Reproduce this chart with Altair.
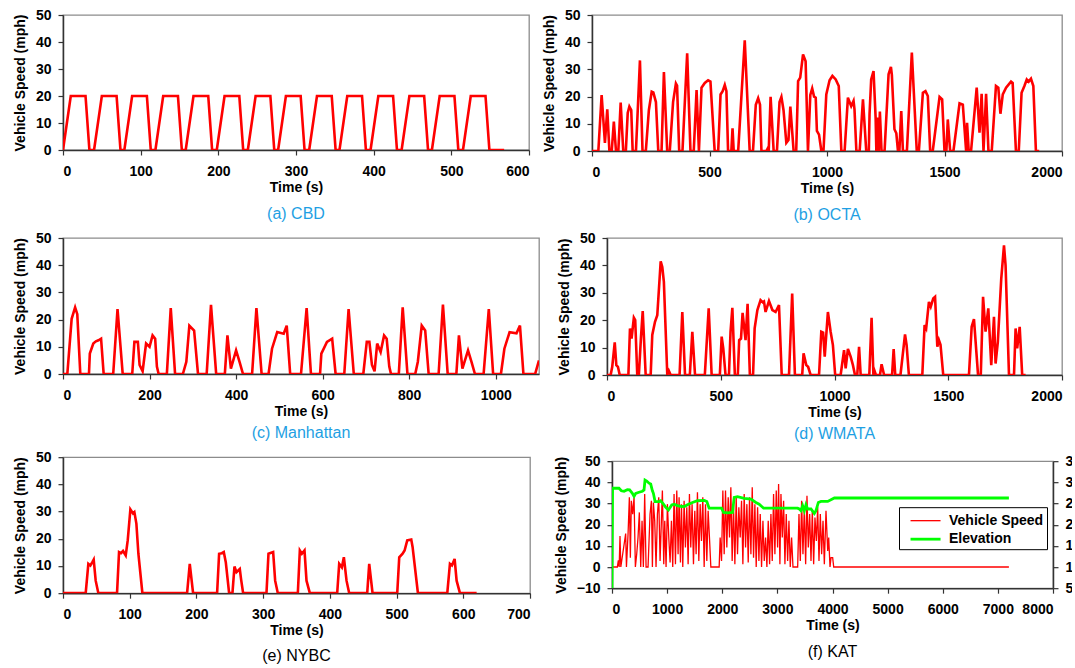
import altair as alt
import pandas as pd

FONT = "Liberation Sans"
RED = "#FF0000"
GREEN = "#00FF00"
CAPTION_BLUE = "#1E9FE3"

# ---- tick values -------------------------------------------------------
speed_ticks = [0, 10, 20, 30, 40, 50]
kat_speed_ticks = [-10, 0, 10, 20, 30, 40, 50]
elevation_ticks = [50, 100, 150, 200, 250, 300, 350]
cbd_x_ticks = [0, 100, 200, 300, 400, 500, 600]
octa_x_ticks = [0, 500, 1000, 1500, 2000]
manhattan_x_ticks = [0, 200, 400, 600, 800, 1000]
wmata_x_ticks = [0, 500, 1000, 1500, 2000]
nybc_x_ticks = [0, 100, 200, 300, 400, 500, 600, 700]
kat_x_ticks = [0, 1000, 2000, 3000, 4000, 5000, 6000, 7000, 8000]

# ---- (a) CBD cycle -----------------------------------------------------
cbd_time = [0, 10, 29, 34, 40, 50, 69, 74, 79, 89, 108, 113, 119, 129, 148, 153,
            158, 168, 187, 192, 198, 208, 227, 232, 238, 248, 267, 272,
            277, 287, 306, 311, 317, 327, 346, 351, 356, 366, 385, 390,
            396, 406, 425, 430, 436, 446, 465, 470, 475, 485, 504, 509,
            515, 525, 544, 549, 568]
cbd_speed = [0, 20, 20, 0, 0, 20, 20, 0, 0, 20, 20, 0, 0, 20, 20, 0,
             0, 20, 20, 0, 0, 20, 20, 0, 0, 20, 20, 0,
             0, 20, 20, 0, 0, 20, 20, 0, 0, 20, 20, 0,
             0, 20, 20, 0, 0, 20, 20, 0, 0, 20, 20, 0,
             0, 20, 20, 0, 0]

# ---- (b) OCTA cycle ----------------------------------------------------
octa_time = [0, 27, 41, 55, 65, 74, 84, 93, 102, 112, 122, 133, 144, 152, 159, 167, 173,
             187, 204, 215, 229, 242, 254, 261, 272, 282, 296, 306, 320, 331, 345, 357,
             362, 371, 385, 405, 419, 433, 445, 455, 466, 480, 494, 504, 522, 537, 547,
             556, 565, 572, 579, 593, 598, 603, 622, 650, 671, 685, 697, 707, 715, 721,
             742, 748, 752, 760, 773, 787, 798, 806, 815, 827, 836, 844, 858, 869, 877,
             886, 898, 909, 919, 929, 937, 945, 952, 957, 966, 976, 985, 997, 1011, 1023,
             1037, 1050, 1061, 1075, 1089, 1103, 1113, 1117, 1125, 1139, 1153, 1167,
             1178, 1181, 1188, 1198, 1207, 1210, 1215, 1220, 1225, 1232, 1245, 1262,
             1272, 1276, 1287, 1295, 1302, 1308, 1316, 1323, 1340, 1361, 1382, 1391,
             1408, 1419, 1429, 1439, 1450, 1479, 1490, 1500, 1508, 1514, 1524, 1538,
             1564, 1578, 1592, 1596, 1603, 1613, 1637, 1649, 1658, 1666, 1677, 1687,
             1701, 1719, 1729, 1738, 1748, 1762, 1783, 1790, 1804, 1816, 1828, 1840,
             1850, 1858, 1868, 1878, 1889, 1903]
octa_speed = [0, 0, 20.6, 3, 15.3, 0, 0, 10.8, 0, 0, 17.8, 0, 0, 14, 16.3, 15, 0,
              0, 33.3, 0, 0, 15, 21.8, 21.5, 18, 0, 0, 29, 0, 0, 18, 24.8,
              24, 0, 0, 35.9, 0, 0, 22.4, 0, 23.3, 25, 26, 25.5, 0, 0, 20.8,
              22, 24.3, 22, 0, 0, 8.3, 0, 0, 40.7, 0, 0, 17, 19.4, 17, 0,
              0, 1, 0, 19.9, 0, 0, 18, 19.9, 15, 3, 4, 16.3, 0, 0, 25.7,
              27, 35.5, 33, 0, 20.6, 23, 20, 19.6, 7.4, 6, 0, 0, 20.8, 26, 27.6,
              26.3, 23.9, 0, 0, 19.6, 16.5, 18.4, 15.3, 0, 0, 19, 0,
              0, 13.5, 26.3, 29.4, 12, 0, 12.3, 0, 14.5, 0, 0, 28.2,
              30.9, 28, 8, 6.5, 0, 0, 14.7, 0, 0, 36.2, 0, 0,
              21.4, 22, 20.2, 0, 0, 19.9, 19, 0, 0, 11.6, 0, 0,
              17.5, 17, 0, 10.4, 0, 0, 23.3, 6.7, 21, 0, 21, 0,
              0, 23.9, 23.3, 13.7, 20.8, 23.3, 25.5, 25, 0, 0, 21.4, 23.9,
              26.3, 25.5, 26.6, 23.9, 0, 0]

# ---- (c) Manhattan cycle -----------------------------------------------
manhattan_time = [0, 10, 20, 28, 33, 40, 60, 62, 70, 76, 82, 88, 94, 116, 126, 138,
                  160, 165, 173, 177, 184, 192, 200, 207, 213, 217, 221, 240, 249, 259,
                  277, 285, 292, 303, 312, 332, 342, 354, 374, 380, 388, 400, 408, 416,
                  437, 447, 459, 475, 483, 495, 510, 517, 525, 550, 563, 573, 594, 597,
                  610, 622, 630, 650, 660, 672, 694, 702, 708, 714, 720, 726, 734, 742,
                  748, 754, 758, 776, 785, 796, 814, 820, 829, 837, 845, 868, 878, 889,
                  909, 915, 923, 936, 944, 952, 972, 984, 994, 1012, 1020, 1032, 1048,
                  1056, 1064, 1091, 1100]
manhattan_speed = [0, 0, 20.3, 24.5, 22, 0, 0, 7.5, 11.2, 12, 12.4, 13, 0, 0, 23.9, 0,
                   0, 11.8, 11.8, 3.3, 1, 11.2, 10, 14.2, 13, 2.7, 0, 0, 24.2, 0,
                   0, 4.5, 17.8, 16, 0, 0, 25.4, 0, 0, 14.2, 2, 8.7, 4.5, 0,
                   0, 24.2, 0, 0, 9.3, 15.4, 14.8, 17.8, 0, 0, 24.2, 0, 0, 7.5,
                   11.8, 13, 0, 0, 23.9, 0, 0, 11.8, 11.8, 3.3, 1, 11.2, 8.1, 14.2,
                   13, 2.7, 0, 0, 24.5, 0, 0, 4.5, 17.8, 16, 0, 0, 25.5, 0,
                   0, 14.2, 2, 8.7, 4.5, 0, 0, 23.9, 0, 0, 9.3, 15.4, 15,
                   17.8, 0, 0, 5]

# ---- (d) WMATA cycle ---------------------------------------------------
wmata_time = [0, 16, 23, 34, 41, 48, 56, 94, 101, 108, 118, 124, 133, 140, 149, 157,
              170, 192, 199, 211, 221, 236, 243, 250, 265, 272, 280, 319, 331, 343,
              364, 375, 387, 430, 447, 460, 496, 504, 511, 521, 536, 543, 551, 562,
              575, 581, 589, 596, 605, 609, 618, 628, 642, 649, 661, 675, 685, 690,
              697, 712, 727, 741, 756, 768, 800, 814, 826, 858, 864, 876, 884, 895,
              932, 942, 950, 957, 971, 983, 993, 1003, 1027, 1042, 1049, 1059, 1071,
              1081, 1090, 1100, 1108, 1115, 1153, 1163, 1171, 1176, 1182, 1200, 1207,
              1218, 1253, 1260, 1267, 1290, 1310, 1317, 1327, 1386, 1396, 1403, 1415,
              1423, 1434, 1442, 1452, 1459, 1466, 1478, 1591, 1603, 1613, 1631, 1643,
              1653, 1664, 1676, 1689, 1701, 1708, 1718, 1733, 1745, 1752, 1767, 1789,
              1796, 1803, 1814, 1825, 1840]
wmata_speed = [0, 0, 3, 11.9, 3.6, 3, 0, 0, 17, 13.3, 20.9, 20, 0, 0, 13.3, 23.3,
               0, 0, 14.6, 19.4, 21.8, 41.5, 39.4, 34, 0, 1.5, 0, 0, 23, 0,
               0, 15.8, 0, 0, 24.3, 0, 0, 14, 9.7, 0, 0, 15.8, 24.5, 0,
               0, 12.7, 13.3, 22.7, 15.8, 12.7, 26, 0, 0, 17, 23.7, 27.3, 26.5, 26.8,
               23, 27, 23.7, 23, 25.5, 0, 0, 29.7, 0, 0, 7.9, 3.6, 3, 0,
               0, 15.8, 15.5, 6.7, 23, 15.8, 10.9, 0, 0, 9.1, 2.4, 9.5, 6.7,
               3.6, 0, 0, 10.3, 0, 0, 20.9, 0, 1.5, 0, 0, 3.9,
               0, 0, 9.5, 0, 0, 14.8, 10.9, 0, 0, 18.2, 17, 26.7,
               24.9, 27.9, 28.5, 10.3, 12.7, 11, 0, 0, 17.6, 20.4, 0, 0,
               28.5, 15.8, 24.3, 3.6, 21.2, 4.2, 12.1, 35.2, 47.3, 40, 0, 0,
               17, 9.7, 17.6, 0, 0]

# ---- (e) NYBC cycle ----------------------------------------------------
nybc_time = [0, 34, 38, 41, 44, 46, 49, 53, 81, 84, 87, 90, 94, 97, 101, 105, 107,
             110, 113, 119, 186, 190, 195, 231, 234, 238, 241, 244, 249, 254, 257,
             260, 265, 267, 270, 305, 308, 315, 318, 322, 352, 355, 358, 362, 365,
             370, 411, 414, 418, 421, 425, 429, 456, 459, 464, 501, 504, 509, 512,
             516, 522, 524, 532, 576, 580, 583, 587, 590, 595, 620]
nybc_speed = [0, 0, 10.8, 10.2, 11.4, 12.3, 4.6, 0, 0, 15.1, 14.7, 15.5, 13.9, 19.4,
              30.8, 29.3, 29.8, 25.6, 14.5, 0, 0, 10.8, 0, 0, 14.5, 14.7, 15.1, 11.4,
              0, 0, 9.8, 7.7, 8.9, 5, 0, 0, 14.5, 15.1, 4.6, 0, 0, 15.7, 14.5, 15.7,
              4.6, 0, 0, 10.8, 9.5, 13.2, 4.6, 0, 0, 10.8, 0, 0, 13.2, 14.5, 15.7,
              19.4, 19.7, 17, 0, 0, 10.8, 10.2, 12.6, 4.6, 0, 0]

# ---- (f) KAT route: speed and elevation --------------------------------
kat_time = [0, 97, 115, 130, 145, 160, 248, 262, 291, 315, 333, 351, 375, 400, 424,
            448, 472, 496, 521, 545, 569, 593, 618, 654, 690, 715, 733, 751, 775, 799,
            824, 848, 872, 896, 914, 939, 957, 981, 1005, 1030, 1054, 1078, 1102, 1126,
            1151, 1175, 1199, 1217, 1242, 1260, 1284, 1308, 1332, 1357, 1381, 1405,
            1429, 1453, 1478, 1502, 1526, 1550, 1575, 1599, 1623, 1647, 1672, 1696,
            1720, 1744, 1768, 1793, 1944, 1962, 1987, 2011, 2035, 2059, 2083, 2108,
            2132, 2156, 2180, 2204, 2229, 2253, 2277, 2301, 2326, 2350, 2374, 2398,
            2423, 2447, 2471, 2495, 2520, 2544, 2568, 2592, 2616, 2641, 2665, 2689,
            2713, 2738, 2762, 2786, 2810, 2834, 2859, 2883, 2907, 2931, 2955, 2980,
            3004, 3022, 3046, 3065, 3089, 3113, 3137, 3161, 3186, 3210, 3234, 3258,
            3283, 3368, 3392, 3416, 3440, 3464, 3489, 3513, 3537, 3561, 3586, 3610,
            3634, 3658, 3682, 3707, 3731, 3755, 3779, 3803, 3828, 3852, 3882, 3913,
            3931, 3955, 3973, 4003, 4022, 7200]
kat_speed = [0, 0, 3.2, 0, 14.7, 0, 15.8, 0, 15.5, 32.9, 4.4, 31.3, 25, 32.9, 0,
             6, 13.9, 25.8, 0, 21.8, 0, 34.5, 0, 0, 25, 31.3, 0, 30.5, 21.8, 0,
             25, 32.9, 2.8, 21.8, 36.1, 1.3, 21.8, 0, 29.7, 13.9, 2.1, 21.8, 0, 34.5,
             1.3, 36.1, 6, 32.9, 2.1, 29.7, 0, 31.3, 9.2, 28.2, 1.3, 34.5,
             9.2, 29.7, 1.3, 26.6, 6, 35.3, 2.8, 29.7, 12.3, 32.9, 0, 29.7,
             2.8, 26.6, 13.9, 0, 0, 13.9, 2.8, 36.1, 6, 36.1, 9.2, 32.9,
             13.9, 37.7, 2.8, 29.7, 1.3, 32.9, 6, 28.2, 13.9, 31.3, 1.3, 34.5,
             9.2, 29.7, 2.1, 32.9, 6, 37.7, 4.4, 29.7, 0, 28.2, 2.8, 25,
             0, 21.8, 2.8, 13.9, 0, 21.8, 1.3, 25, 2.8, 34.5, 6, 36.1,
             9.2, 39.2, 1.3, 34.5, 13.9, 31.3, 1.3, 25, 2.8, 21.8, 0, 13.9,
             0, 0, 25, 2.8, 31.3, 6, 28.2, 1.3, 33.7, 9.2, 25, 2.8,
             26.6, 1.3, 23.4, 12.3, 28.2, 2.8, 25, 6, 21.8, 1.3, 26.6, 7.6,
             13.9, 0, 4.4, 4.4, 0, 0]
elev_time = [0, 10, 127, 169, 218, 278, 320, 369, 400, 430, 490, 551, 581, 599, 630,
             672, 702, 733, 751, 781, 854, 884, 933, 975, 1023, 1084, 1126, 1187, 1260,
             1320, 1369, 1460, 1550, 1672, 1720, 1762, 1987, 2023, 2096, 2186, 2217,
             2277, 2398, 2520, 2610, 2670, 2750, 3367, 3398, 3428, 3458, 3489, 3519,
             3549, 3610, 3670, 3700, 3743, 3792, 3913, 4034, 7200]
elevation = [50, 286, 286, 280, 279, 282.5, 282, 274, 267, 274, 276.5, 279, 282, 305.5,
             303, 298, 296, 280, 274, 254.5, 254.5, 256.5, 248.5, 241, 234.5, 246.5,
             248.5, 245, 243, 243.5, 247, 252.5, 256.5, 257.5, 254.5, 239, 239, 229,
             228, 229, 264.5, 266, 262, 260.5, 252.5, 248.5, 239, 239, 237, 233, 245,
             233, 247, 237, 237, 226.5, 233, 252.5, 255, 255, 263, 263]


def caption_title(text, color, offset):
    return alt.TitleParams(text=text, orient="bottom", color=color, fontSize=16,
                           font=FONT, fontWeight="normal", offset=offset)


def speed_panel(time, speed, x_max, x_ticks, width, height, caption, color, offset):
    frame = pd.DataFrame({"time": time, "speed": speed})
    return alt.Chart(frame).mark_line(color=RED, strokeWidth=2.6, clip=True).encode(
        x=alt.X("time:Q", scale=alt.Scale(domain=[0, x_max], nice=False),
                axis=alt.Axis(title="Time (s)", values=x_ticks, format="d")),
        y=alt.Y("speed:Q", scale=alt.Scale(domain=[0, 50], nice=False),
                axis=alt.Axis(title="Vehicle Speed (mph)", values=speed_ticks, format="d")),
    ).properties(width=width, height=height, title=caption_title(caption, color, offset))


panel_a = speed_panel(cbd_time, cbd_speed, 600, cbd_x_ticks, 466, 135, "(a) CBD", CAPTION_BLUE, 12)
panel_b = speed_panel(octa_time, octa_speed, 2000, octa_x_ticks, 470, 136, "(b) OCTA", CAPTION_BLUE, 12)
panel_c = speed_panel(manhattan_time, manhattan_speed, 1100, manhattan_x_ticks, 476, 136,
                      "(c) Manhattan", CAPTION_BLUE, 7)
panel_d = speed_panel(wmata_time, wmata_speed, 2000, wmata_x_ticks, 455, 137, "(d) WMATA", CAPTION_BLUE, 7)
panel_e = speed_panel(nybc_time, nybc_speed, 700, nybc_x_ticks, 467, 136, "(e) NYBC", "black", 11)

# KAT: speed on the left axis, elevation on the right axis
series_domain = ["Vehicle Speed", "Elevation"]
kat_legend = alt.Legend(title=None, orient="none", legendX=287, legendY=46,
                        strokeColor="black", fillColor="white", padding=3,
                        labelFont=FONT, labelFontSize=14, labelFontWeight="bold",
                        labelColor="black", symbolType="M-0.26,0L2.9,0", symbolSize=361,
                        rowPadding=0, labelOffset=25)
kat_color = alt.Color("series:N", scale=alt.Scale(domain=series_domain, range=[RED, GREEN]),
                      legend=kat_legend)
kat_width = alt.StrokeWidth("series:N", scale=alt.Scale(domain=series_domain, range=[1.3, 2.8]),
                            legend=kat_legend)
kat_x = alt.X("time:Q", scale=alt.Scale(domain=[0, 8000], nice=False),
              axis=alt.Axis(title="Time (s)", values=kat_x_ticks, format="d"))

kat_speed_frame = pd.DataFrame({"time": kat_time, "value": kat_speed, "series": "Vehicle Speed"})
kat_elev_frame = pd.DataFrame({"time": elev_time, "value": elevation, "series": "Elevation"})

kat_speed_line = alt.Chart(kat_speed_frame).mark_line(clip=True).encode(
    x=kat_x,
    y=alt.Y("value:Q", scale=alt.Scale(domain=[-10, 50], nice=False),
            axis=alt.Axis(title="Vehicle Speed (mph)", values=kat_speed_ticks, format="d")),
    color=kat_color, strokeWidth=kat_width,
)
kat_elev_line = alt.Chart(kat_elev_frame).mark_line(clip=True).encode(
    x=kat_x,
    y=alt.Y("value:Q", scale=alt.Scale(domain=[50, 350], nice=False),
            axis=alt.Axis(title=None, orient="right", values=elevation_ticks, format="d")),
    color=kat_color, strokeWidth=kat_width,
)
panel_f = alt.layer(kat_speed_line, kat_elev_line).resolve_scale(y="independent").properties(
    width=441, height=127, title=caption_title("(f) KAT", "black", 12))

row1 = alt.hconcat(panel_a, panel_b, spacing=10)
row2 = alt.hconcat(panel_c, panel_d, spacing=16)
row3 = alt.hconcat(panel_e, panel_f, spacing=21, center=True).resolve_scale(
    color="independent", strokeWidth="independent"
).resolve_legend(color="independent", strokeWidth="independent")

# the elevation labels run past the right edge of the page and are cut there
chart = alt.vconcat(row1, row2, row3, spacing=6).resolve_scale(
    color="independent", strokeWidth="independent"
).resolve_legend(
    color="independent", strokeWidth="independent"
).properties(
    padding={"left": 12, "top": 7, "right": -18, "bottom": 0}
).configure_axis(
    labelFont=FONT, labelFontSize=14, labelFontWeight="bold", labelColor="black",
    titleFont=FONT, titleFontSize=14, titleFontWeight="bold", titleColor="black",
    grid=False, domainColor="#333333", domainWidth=1.5,
    tickColor="#333333", tickSize=5, tickWidth=1.2,
).configure_axisY(
    labelPadding=7, titlePadding=8,
).configure_axisX(
    labelPadding=9, titlePadding=2,
).configure_view(
    stroke="#8c8c8c", strokeWidth=1.3,
).configure_title(font=FONT)

chart.save("out.html", embed_options={"renderer": "svg", "actions": False})
